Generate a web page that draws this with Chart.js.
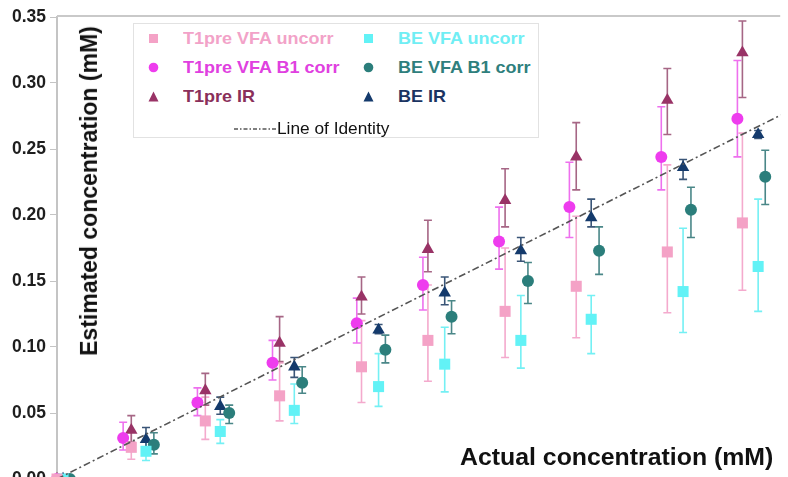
<!DOCTYPE html>
<html>
<head>
<meta charset="utf-8">
<script src="https://cdn.jsdelivr.net/npm/chart.js@4.4.1/dist/chart.umd.min.js"></script>
<style>
  body { margin: 0; overflow: hidden; background: #fff; font-family: "Liberation Sans", Arial, sans-serif; }
  #wrap { position: relative; width: 788px; height: 500px; }
  #c { position: absolute; left: 0; top: 0; }
  .ytitle { position: absolute; left: 88px; top: 191px; transform: translate(-50%, -50%) rotate(-90deg) scaleY(1.08);
            white-space: nowrap; font-weight: bold; font-size: 23px; line-height: 26px; color: #111; }
  .xtitle { position: absolute; left: 460px; top: 444px; transform-origin: 0 50%; transform: scaleX(1.08);
            white-space: nowrap; font-weight: bold; font-size: 23px; line-height: 26px; color: #111; }
  #legend { position: absolute; left: 133px; top: 23px; width: 404px; height: 113px; border: 1px solid #e2e2e2; background: #fff; }
  .li { position: absolute; font-weight: bold; font-size: 17px; white-space: nowrap; line-height: 20px; }
  .li span { display: inline-block; transform-origin: 0 50%; transform: scaleX(1.06); }
  .li svg { position: absolute; left: -35px; top: 4px; }
  .lid { position: absolute; left: 143px; top: 95px; font-size: 16px; line-height: 20px; color: #111; white-space: nowrap; }
  .lid span { display: inline-block; transform-origin: 0 50%; transform: scaleX(1.08); }
</style>
</head>
<body>
<div id="wrap">
  <canvas id="c" width="788" height="500"></canvas>
  <div class="ytitle">Estimated concentration (mM)</div>
  <div class="xtitle">Actual concentration (mM)</div>
  <div id="legend"></div>
</div>
<script>
// x positions of each series' markers (mM)
const xT1pre     = [0.000, 0.0283, 0.0565, 0.0848, 0.1160, 0.1413, 0.1707, 0.1978, 0.2325, 0.2611];
const xT1preCorr = [0.000, 0.0252, 0.0535, 0.0821, 0.1142, 0.1394, 0.1684, 0.1952, 0.2302, 0.2592];
const xBE        = [0.0023, 0.0339, 0.0622, 0.0904, 0.1225, 0.1477, 0.1767, 0.2035, 0.2385, 0.2671];
const xBECorr    = [0.0049, 0.0369, 0.0656, 0.0934, 0.1251, 0.1503, 0.1794, 0.2065, 0.2415, 0.2698];

// T1pre VFA uncorr
const t1Uncorr   = [0, 0.024, 0.044, 0.063, 0.085, 0.105, 0.127, 0.146, 0.172, 0.194];
const t1UncorrLo = [0, 0.015, 0.030, 0.044, 0.058, 0.074, 0.092, 0.107, 0.126, 0.143];
const t1UncorrHi = [0, 0.036, 0.062, 0.088, 0.120, 0.147, 0.175, 0.199, 0.238, 0.262];
// T1pre VFA B1 corr
const t1Corr     = [0, 0.031, 0.058, 0.088, 0.118, 0.147, 0.180, 0.206, 0.244, 0.273];
const t1CorrLo   = [0, 0.022, 0.048, 0.075, 0.103, 0.128, 0.159, 0.183, 0.219, 0.244];
const t1CorrHi   = [0, 0.043, 0.069, 0.105, 0.137, 0.168, 0.206, 0.240, 0.282, 0.317];
// T1pre IR
const t1IR       = [0, 0.037, 0.067, 0.103, 0.138, 0.174, 0.211, 0.244, 0.287, 0.323];
const t1IRLo     = [0, 0.028, 0.056, 0.089, 0.125, 0.157, 0.191, 0.219, 0.261, 0.289];
const t1IRHi     = [0, 0.048, 0.080, 0.123, 0.153, 0.196, 0.235, 0.270, 0.311, 0.347];
// BE VFA uncorr
const beUncorr   = [0, 0.021, 0.036, 0.052, 0.070, 0.087, 0.105, 0.121, 0.142, 0.161];
const beUncorrLo = [0, 0.014, 0.027, 0.042, 0.055, 0.066, 0.084, 0.095, 0.111, 0.127];
const beUncorrHi = [0, 0.028, 0.045, 0.072, 0.095, 0.115, 0.139, 0.139, 0.190, 0.212];
// BE VFA B1 corr
const beCorr     = [0, 0.026, 0.050, 0.073, 0.098, 0.123, 0.150, 0.173, 0.204, 0.229];
const beCorrLo   = [0, 0.019, 0.042, 0.065, 0.088, 0.110, 0.133, 0.155, 0.183, 0.208];
const beCorrHi   = [0, 0.035, 0.056, 0.085, 0.109, 0.135, 0.164, 0.191, 0.221, 0.249];
// BE IR
const beIR       = [0, 0.030, 0.055, 0.085, 0.113, 0.141, 0.173, 0.198, 0.236, 0.261];
const beIRLo     = [0, 0.021, 0.049, 0.077, 0.110, 0.132, 0.165, 0.191, 0.227, 0.258];
const beIRHi     = [0, 0.039, 0.062, 0.092, 0.117, 0.153, 0.183, 0.212, 0.242, 0.264];

const identity = [0, 0.28];
const yTicks = [0, 0.05, 0.10, 0.15, 0.20, 0.25, 0.30, 0.35];

const pts = (xs, ys) => xs.map((x, i) => ({ x, y: ys[i] }));

function series(label, xs, ys, lo, hi, shape, color, errColor, textColor, r) {
  return {
    type: 'scatter', label, data: pts(xs, ys), lo, hi, errColor, textColor, shape,
    pointStyle: shape, pointRadius: r, pointHoverRadius: r,
    backgroundColor: color, borderColor: color, borderWidth: 0, clip: false
  };
}

const sets = [
  series('T1pre VFA uncorr', xT1pre, t1Uncorr, t1UncorrLo, t1UncorrHi, 'rect', '#f4a2c6', '#f4aacd', '#f2a2c8', 7.8),
  series('BE VFA uncorr', xBE, beUncorr, beUncorrLo, beUncorrHi, 'rect', '#62f2f6', '#74f0f4', '#70eef4', 7.8),
  series('T1pre VFA B1 corr', xT1preCorr, t1Corr, t1CorrLo, t1CorrHi, 'circle', '#ee3cee', '#ee70ee', '#e040e0', 6),
  series('BE VFA B1 corr', xBECorr, beCorr, beCorrLo, beCorrHi, 'circle', '#2b7e7b', '#4a8788', '#2f7f7d', 6),
  series('T1pre IR', xT1pre, t1IR, t1IRLo, t1IRHi, 'triangle', '#993366', '#a66685', '#8a2f5a', 7.2),
  series('BE IR', xBE, beIR, beIRLo, beIRHi, 'triangle', '#143a6c', '#3a5577', '#1b3462', 7.2),
];

const errorBars = {
  id: 'errorBars',
  beforeDatasetsDraw(chart) {
    const { ctx, scales: { x, y } } = chart;
    chart.data.datasets.forEach((ds) => {
      if (!ds.lo) return;
      ctx.save();
      ctx.strokeStyle = ds.errColor;
      ctx.lineWidth = 1.6;
      ds.data.forEach((p, j) => {
        if (ds.hi[j] === ds.lo[j]) return;
        const px = x.getPixelForValue(p.x);
        const top = y.getPixelForValue(ds.hi[j]);
        const bot = y.getPixelForValue(ds.lo[j]);
        ctx.beginPath();
        ctx.moveTo(px, top); ctx.lineTo(px, bot);
        ctx.moveTo(px - 4, top); ctx.lineTo(px + 4, top);
        ctx.moveTo(px - 4, bot); ctx.lineTo(px + 4, bot);
        ctx.stroke();
      });
      ctx.restore();
    });
  }
};

// light grey frame line along the top of the plot
const topBorder = {
  id: 'topBorder',
  afterDraw(chart) {
    const { ctx, chartArea: a } = chart;
    ctx.save();
    ctx.strokeStyle = '#c9c9c9';
    ctx.lineWidth = 2;
    ctx.beginPath();
    ctx.moveTo(a.left, a.top - 1);
    ctx.lineTo(a.right, a.top - 1);
    ctx.stroke();
    ctx.restore();
  }
};

new Chart(document.getElementById('c'), {
  data: {
    datasets: [
      {
        type: 'line', label: 'Line of Identity', data: pts(identity, identity),
        borderColor: '#555', borderWidth: 1.6, borderDash: [7, 3, 2, 3],
        pointRadius: 0, fill: false
      },
      ...sets
    ]
  },
  options: {
    responsive: false,
    animation: false,
    layout: { padding: { top: 17, bottom: 21, left: 0, right: 0 } },
    plugins: { legend: { display: false }, tooltip: { enabled: false } },
    scales: {
      x: { type: 'linear', min: 0, max: 0.2755, display: false },
      y: {
        type: 'linear', min: 0, max: 0.35,
        afterFit: (s) => { s.width = 57; },
        afterBuildTicks: (s) => { s.ticks = yTicks.map(v => ({ value: v })); },
        ticks: {
          padding: 4, color: '#1e1e1e',
          font: { family: '"Liberation Sans", Arial, sans-serif', size: 17.5, weight: 'bold' },
          callback: (v) => v.toFixed(2)
        },
        grid: { drawOnChartArea: false, tickLength: 7, color: '#c4c4c4' },
        border: { color: '#c4c4c4', width: 2 }
      }
    }
  },
  plugins: [errorBars, topBorder]
});

// legend, laid out like the original box
function markerSvg(shape, color) {
  let s;
  if (shape === 'rect') s = `<rect x="1" y="1" width="9" height="9" fill="${color}"/>`;
  else if (shape === 'circle') s = `<circle cx="5.5" cy="5.5" r="4.8" fill="${color}"/>`;
  else s = `<polygon points="5.5,0.5 10.5,10.5 0.5,10.5" fill="${color}"/>`;
  return `<svg width="11" height="11">${s}</svg>`;
}
const legendPos = [[49, 5], [264, 5], [49, 34], [264, 34], [49, 63], [264, 63]];
const lg = document.getElementById('legend');
lg.innerHTML = sets.map((d, i) =>
  `<div class="li" style="left:${legendPos[i][0]}px;top:${legendPos[i][1]}px;color:${d.textColor}">` +
  markerSvg(d.shape, d.backgroundColor) + `<span>${d.label}</span></div>`).join('') +
  `<div class="lid"><svg width="42" height="6" style="position:absolute;left:-43px;top:7px">` +
  `<line x1="0" y1="3" x2="42" y2="3" stroke="#555" stroke-width="1.4" stroke-dasharray="4,2,1.5,2"/></svg><span>Line of Identity</span></div>`;
</script>
</body>
</html>
